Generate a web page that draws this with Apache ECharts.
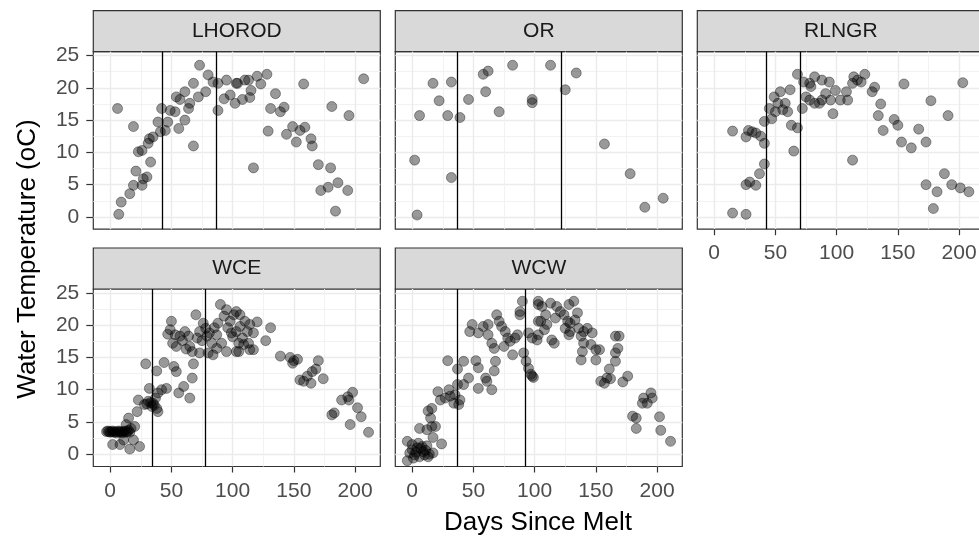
<!DOCTYPE html>
<html>
<head>
<meta charset="utf-8">
<script src="https://cdn.jsdelivr.net/npm/echarts@6/dist/echarts.min.js"></script>
<style>
html,body{margin:0;padding:0;background:#fff}
#main{width:979px;height:544px}
</style>
</head>
<body>
<div id="main"></div>
<script>
// tick labels
const xTicks = [0, 50, 100, 150, 200];
const yTicks = [0, 5, 10, 15, 20, 25];

// LHOROD
const lhorodDays = [73,80,68,61,54,57,65,72,78,84,88,95,103,93,98,102,88,64,42,49,53,47,39,61,56,45,41,35,32,31,68,6,19,23,26,33,21,30,27,19,26,16,9,7,
  104,110,113,120,128,123,115,108,114,135,158,207,131,139,142,181,195,129,149,144,155,159,152,164,165,117,170,180,172,178,186,194,184];
const lhorodTemp = [23.5,22.0,20.7,19.4,18.6,18.2,17.6,18.6,19.4,20.9,20.7,21.2,20.7,18.3,18.9,17.6,16.5,16.8,16.8,16.5,16.3,14.7,14.7,15.0,13.7,13.4,13.2,12.4,12.1,11.4,11.0,16.8,14.0,10.1,10.3,8.5,7.1,6.2,5.9,4.9,4.9,3.6,2.3,0.4,
  20.7,21.2,21.2,21.8,22.1,20.6,19.6,18.2,18.5,19.1,20.6,21.4,16.8,16.3,17.0,17.1,15.7,13.3,14.0,12.8,13.4,13.9,11.6,12.1,11.0,7.6,8.1,7.6,4.1,4.6,5.3,4.1,0.9];
const lhorodMelt = [42.5, 86.5];

// OR
const orDays = [82,113,62,58,134,17,32,60,125,22,46,98,98,71,6,29,39,157,2,32,178,205,190,4];
const orTemp = [23.5,23.5,22.6,22.1,22.3,20.7,20.9,19.4,19.7,18.0,18.2,18.2,17.7,16.3,15.7,15.7,15.4,11.3,8.8,6.1,6.7,2.9,1.5,0.3];
const orMelt = [36.5, 122];

// RLNGR
const rlngrDays = [15,15,26,26,29,34,37,41,26,28,31,34,38,41,41,45,47,49,52,50,54,56,58,60,62,63,68,65,68,72,
  73,78,79,82,88,94,75,78,82,86,88,91,95,97,99,103,108,109,113,114,117,120,123,131,129,113,
  136,134,138,147,150,153,161,155,167,173,177,191,203,188,173,182,194,201,208,179];
const rlngrTemp = [13.3,0.6,0.4,5.0,5.4,4.9,6.7,8.2,12.4,13.4,13.2,13.0,12.5,11.4,14.8,16.8,15.2,18.6,17.6,16.3,19.4,16.6,17.6,16.3,19.7,14.2,13.8,10.2,22.1,16.8,
  20.9,20.7,20.2,21.7,21.2,20.9,18.6,18.1,17.6,17.6,18.1,19.1,18.1,16.0,19.6,18.1,19.4,18.1,20.7,21.7,21.2,20.9,22.1,20.1,19.4,8.8,
  17.5,15.7,13.4,15.1,14.2,11.6,10.7,20.6,13.6,11.6,18.0,15.7,20.8,6.7,5.0,3.9,5.0,4.5,3.9,1.3];
const rlngrMelt = [42.8, 70.1];

// WCE
const wceDays = [-3,-2,-1,0,1,2,3,4,5,6,7,8,9,10,11,12,13,14,15,16,
  2,8,16,24,11,19,20,15,13,17,22,23,28,31,34,38,39,37,39,42,46,32,35,36,33,30,
  29,38,44,52,54,67,65,56,60,68,
  49,50,53,54,57,61,65,67,64,70,73,76,79,80,73,83,84,47,51,59,62,71,75,78,81,85,87,
  90,93,95,88,98,101,103,99,95,103,87,91,96,100,106,109,
  103,106,110,114,120,117,112,108,105,105,113,114,117,131,127,
  139,147,150,153,149,170,168,165,161,155,158,164,174,
  198,194,189,195,183,181,202,205,196,211];
const wceTemp = [3.5,3.6,3.5,3.4,3.5,3.6,3.4,3.5,3.3,3.5,3.6,3.4,3.5,3.3,3.5,3.6,3.4,3.5,3.7,3.4,
  1.5,1.5,0.8,1.2,2.2,2.2,4.3,5.6,4.6,4.0,6.6,8.4,7.7,8.2,7.4,7.1,6.6,8.7,9.5,10.0,10.2,10.2,7.9,7.6,8.0,7.8,
  14.0,12.9,14.2,13.6,12.8,11.8,8.7,9.5,10.5,14.0,
  19.3,20.6,18.5,16.7,18.3,19.0,16.7,15.9,18.3,21.6,19.0,20.3,18.3,15.7,15.7,17.2,15.4,18.6,17.2,17.6,16.3,18.0,17.6,19.5,18.8,19.6,16.4,
  23.2,21.4,22.4,20.3,20.6,21.6,19.0,18.8,15.9,15.9,18.5,17.2,19.6,18.2,19.8,17.0,
  22.1,21.6,20.6,20.1,20.5,18.8,19.0,18.0,17.2,15.9,17.2,16.2,16.2,19.6,17.6,
  15.2,15.0,14.5,14.7,14.1,14.5,13.2,12.8,12.1,11.5,11.3,11.0,11.7,
  9.6,8.9,8.4,8.4,6.4,6.1,7.2,5.8,4.6,3.4];
const wceMelt = [34.6, 78];

// WCW
const wcwDays = [-4,-4,0,4,8,2,6,10,13,17,9,0,5,24,17,3,7,11,14,1,-2,12,
  6,12,16,19,15,13,16,21,23,27,31,35,38,34,39,30,37,42,46,
  29,37,42,52,54,68,67,60,61,54,65,
  49,47,54,58,62,62,65,67,69,71,73,76,78,80,82,75,84,86,88,88,90,91,93,95,97,98,99,95,98,102,103,103,
  103,106,109,105,110,103,108,114,116,113,118,121,117,124,127,129,132,128,135,133,125,129,128,136,140,143,138,147,140,146,150,153,139,138,150,
  166,169,168,166,166,161,159,154,157,162,172,176,
  195,189,196,192,188,180,183,183,202,203,211];
const wcwTemp = [2.0,-1.0,1.5,1.0,1.2,-0.1,-0.4,-0.1,-0.4,0.2,0.4,0.7,1.7,1.6,2.6,0.3,0.9,0.6,0.0,-0.6,0.2,1.3,
  4.0,3.8,4.3,4.3,5.6,6.7,7.1,9.7,8.4,8.7,9.0,9.2,7.7,7.9,8.4,10.0,10.8,10.8,11.8,
  14.5,13.2,14.4,14.5,13.4,14.4,12.9,11.8,11.3,10.2,10.0,
  20.1,19.0,18.8,19.8,20.1,18.5,17.2,16.4,21.6,20.6,19.8,19.0,18.0,17.5,15.4,16.7,18.0,18.5,22.1,21.6,23.7,15.7,14.4,13.3,12.4,12.1,11.9,18.8,18.0,17.7,23.2,20.6,
  23.7,22.9,21.6,20.6,20.1,18.5,19.3,17.7,17.2,23.4,22.9,22.1,21.1,21.6,20.6,20.3,23.7,23.2,21.9,20.8,19.5,19.0,18.5,19.5,19.0,19.5,18.3,18.8,17.2,17.0,16.2,16.2,15.9,14.6,14.6,
  18.3,18.3,16.4,15.7,14.4,13.2,11.8,11.3,11.0,11.7,11.2,12.1,
  9.5,8.7,8.7,7.9,7.9,5.9,5.6,4.0,5.8,3.7,2.0];
const wcwMelt = [36.5, 92];

const FONT = '"Liberation Sans", Arial, sans-serif';
const colLeft = [93.3, 395.3, 697.3];
const rowTop = [51.7, 289];
const panelW = 287, panelH = 177.5, stripH = 41;

const panels = [
  { name: 'LHOROD', days: lhorodDays, temp: lhorodTemp, melt: lhorodMelt, col: 0, row: 0, showX: false, showY: true },
  { name: 'OR', days: orDays, temp: orTemp, melt: orMelt, col: 1, row: 0, showX: false, showY: false },
  { name: 'RLNGR', days: rlngrDays, temp: rlngrTemp, melt: rlngrMelt, col: 2, row: 0, showX: true, showY: false },
  { name: 'WCE', days: wceDays, temp: wceTemp, melt: wceMelt, col: 0, row: 1, showX: true, showY: true },
  { name: 'WCW', days: wcwDays, temp: wcwTemp, melt: wcwMelt, col: 1, row: 1, showX: true, showY: false }
];

let grids = [], xAxes = [], yAxes = [], series = [], graphic = [];
const tickText = { color: '#4d4d4d', fontSize: 21, fontFamily: FONT };

panels.forEach((p, i) => {
  const left = colLeft[p.col], top = rowTop[p.row];
  grids.push({
    left: left, top: top, width: panelW, height: panelH,
    show: true, backgroundColor: '#fff', borderColor: '#333', borderWidth: 1.2,
    containLabel: false, outerBoundsMode: 'none'
  });
  xAxes.push({
    gridIndex: i, type: 'value', min: -13.8, max: 220.6, position: 'bottom',
    axisLine: { show: false, onZero: false },
    axisTick: { show: p.showX, length: 6, customValues: xTicks, lineStyle: { color: '#333', width: 1.2 } },
    axisLabel: Object.assign({ show: p.showX, customValues: xTicks, margin: 14 }, tickText),
    splitLine: { show: true, lineStyle: { color: '#ebebeb', width: 1.4 } },
    minorTick: { show: false, splitNumber: 2 },
    minorSplitLine: { show: true, lineStyle: { color: '#f0f0f0', width: 0.9 } }
  });
  yAxes.push({
    gridIndex: i, type: 'value', min: -1.9, max: 25.6, position: 'left',
    axisLine: { show: false, onZero: false },
    axisTick: { show: p.showY, length: 7, customValues: yTicks, lineStyle: { color: '#333', width: 1.2 } },
    axisLabel: Object.assign({ show: p.showY, customValues: yTicks, margin: 14 }, tickText),
    splitLine: { show: true, lineStyle: { color: '#ebebeb', width: 1.4 } },
    minorTick: { show: false, splitNumber: 2 },
    minorSplitLine: { show: true, lineStyle: { color: '#f0f0f0', width: 0.9 } }
  });
  series.push({
    type: 'scatter', xAxisIndex: i, yAxisIndex: i,
    data: p.days.map((d, k) => [d, p.temp[k]]),
    symbolSize: 10,
    itemStyle: { color: 'rgba(0,0,0,0.5)', borderColor: 'rgba(0,0,0,0.45)', borderWidth: 1 },
    emphasis: { disabled: true },
    markLine: {
      silent: true, symbol: ['none', 'none'], label: { show: false },
      lineStyle: { color: '#000', width: 1.3, type: 'solid' },
      data: p.melt.map(m => ({ xAxis: m }))
    }
  });
  // facet strip
  graphic.push({
    type: 'rect', shape: { x: left, y: top - stripH, width: panelW, height: stripH },
    style: { fill: '#d9d9d9', stroke: '#333', lineWidth: 1.2 }
  });
  graphic.push({
    type: 'text', x: left + panelW / 2, y: top - stripH / 2,
    style: { text: p.name, fill: '#1a1a1a', font: '21px ' + FONT, textAlign: 'center', textVerticalAlign: 'middle' }
  });
});

// axis titles
graphic.push({
  type: 'text', x: 28, y: 259, rotation: Math.PI / 2,
  style: { text: 'Water Temperature (oC)', fill: '#000', font: '26px ' + FONT, textAlign: 'center', textVerticalAlign: 'middle' }
});
graphic.push({
  type: 'text', x: 538, y: 523,
  style: { text: 'Days Since Melt', fill: '#000', font: '26px ' + FONT, textAlign: 'center', textVerticalAlign: 'middle' }
});

const chart = echarts.init(document.getElementById('main'));
chart.setOption({
  animation: false,
  backgroundColor: '#fff',
  grid: grids,
  xAxis: xAxes,
  yAxis: yAxes,
  series: series,
  graphic: graphic
});
</script>
</body>
</html>
